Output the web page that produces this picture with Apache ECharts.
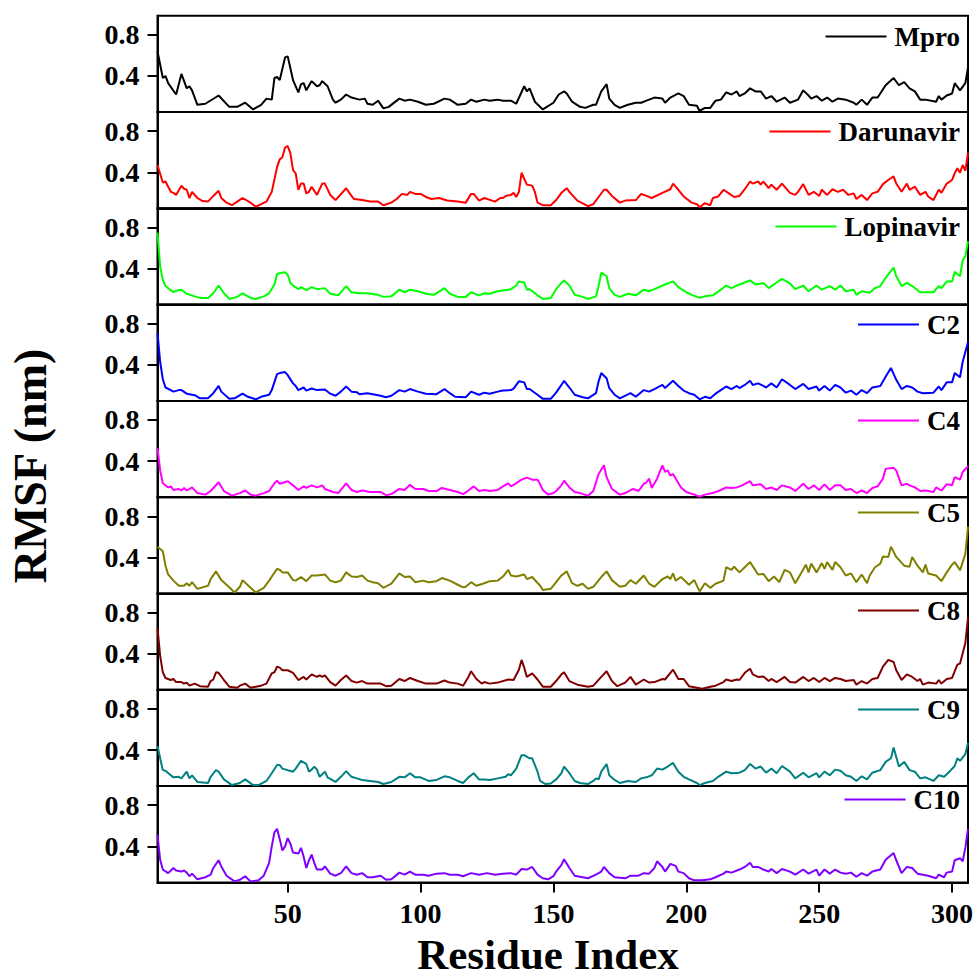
<!DOCTYPE html>
<html>
<head>
<meta charset="utf-8">
<script src="https://cdn.jsdelivr.net/npm/echarts@6/dist/echarts.min.js"></script>
<style>
html,body{margin:0;padding:0;background:#fff;}
#chart{width:977px;height:979px;}
</style>
</head>
<body>
<div id="chart"></div>
<script>
// ---------- DATA (residue index, RMSF nm) ----------
const seriesNames = ['Mpro','Darunavir','Lopinavir','C2','C4','C5','C8','C9','C10'];
const xTicks = [50,100,150,200,250,300];
const yTicks = [0.4,0.8];

const mpro = [[1,0.64],[3,0.38],[4,0.40],[5,0.33],[8,0.22],[10,0.42],[12,0.28],[13,0.30],[14,0.26],[16,0.12],[19,0.13],[24,0.21],[28,0.10],[31,0.10],[34,0.14],[37,0.075],[40,0.12],[42,0.18],[44,0.17],[45,0.38],[46,0.39],[47,0.36],[49,0.58],[50,0.59],[52,0.36],[54,0.24],[55,0.32],[56,0.33],[57,0.26],[59,0.35],[61,0.30],[62,0.31],[63,0.35],[65,0.30],[67,0.17],[68,0.14],[70,0.17],[72,0.22],[74,0.19],[77,0.17],[79,0.18],[80,0.13],[82,0.12],[84,0.16],[86,0.085],[88,0.10],[92,0.18],[94,0.16],[96,0.17],[99,0.15],[102,0.12],[105,0.13],[109,0.18],[111,0.17],[114,0.12],[117,0.13],[119,0.17],[121,0.15],[124,0.17],[126,0.16],[129,0.17],[131,0.16],[134,0.16],[136,0.13],[139,0.30],[140,0.25],[141,0.28],[143,0.15],[146,0.075],[150,0.14],[152,0.22],[154,0.25],[155,0.23],[157,0.15],[160,0.10],[162,0.09],[165,0.12],[166,0.12],[168,0.25],[170,0.32],[171,0.18],[173,0.12],[175,0.09],[178,0.12],[181,0.14],[183,0.14],[185,0.16],[188,0.19],[191,0.18],[192,0.14],[194,0.19],[197,0.23],[199,0.205],[201,0.12],[204,0.11],[205,0.06],[207,0.09],[209,0.09],[211,0.16],[213,0.17],[215,0.24],[217,0.22],[219,0.25],[220,0.205],[222,0.23],[224,0.28],[226,0.25],[228,0.25],[230,0.18],[232,0.205],[234,0.15],[237,0.19],[239,0.14],[242,0.17],[244,0.26],[246,0.21],[247,0.18],[249,0.205],[251,0.16],[253,0.19],[255,0.15],[257,0.18],[260,0.17],[263,0.14],[264,0.12],[266,0.17],[268,0.12],[270,0.19],[272,0.19],[275,0.31],[278,0.38],[280,0.31],[282,0.34],[284,0.28],[286,0.25],[288,0.17],[290,0.17],[294,0.15],[295,0.205],[296,0.17],[298,0.21],[300,0.23],[301,0.33],[303,0.26],[305,0.33],[306,0.48]];

const darunavir = [[1,0.47],[3,0.30],[4,0.31],[6,0.21],[7,0.20],[8,0.18],[10,0.27],[11,0.24],[12,0.23],[13,0.15],[14,0.21],[16,0.15],[18,0.12],[20,0.115],[22,0.17],[24,0.22],[25,0.15],[27,0.105],[29,0.08],[31,0.115],[33,0.15],[36,0.105],[38,0.065],[40,0.09],[42,0.115],[44,0.21],[46,0.45],[47,0.525],[48,0.545],[49,0.64],[50,0.655],[51,0.585],[52,0.42],[53,0.39],[54,0.23],[55,0.29],[56,0.29],[57,0.195],[58,0.21],[59,0.26],[61,0.18],[63,0.29],[64,0.29],[66,0.18],[68,0.13],[72,0.245],[74,0.17],[75,0.14],[78,0.13],[81,0.115],[84,0.115],[86,0.08],[89,0.105],[91,0.14],[93,0.19],[95,0.18],[96,0.21],[98,0.19],[100,0.19],[102,0.16],[104,0.14],[107,0.15],[110,0.125],[114,0.115],[117,0.105],[119,0.19],[120,0.19],[122,0.125],[124,0.15],[128,0.115],[130,0.15],[131,0.15],[132,0.17],[134,0.18],[135,0.2],[136,0.16],[137,0.21],[138,0.395],[140,0.28],[142,0.27],[143,0.21],[144,0.105],[146,0.08],[149,0.08],[151,0.13],[153,0.2],[155,0.245],[156,0.21],[159,0.125],[163,0.07],[165,0.09],[167,0.16],[169,0.23],[170,0.23],[172,0.17],[175,0.105],[177,0.125],[181,0.13],[183,0.19],[185,0.17],[187,0.15],[191,0.2],[194,0.235],[195,0.29],[197,0.23],[199,0.165],[202,0.105],[204,0.09],[205,0.06],[207,0.1],[209,0.08],[210,0.15],[212,0.165],[214,0.23],[216,0.195],[218,0.16],[220,0.17],[222,0.235],[224,0.31],[225,0.29],[227,0.31],[228,0.28],[229,0.31],[231,0.245],[232,0.28],[234,0.23],[236,0.29],[239,0.2],[241,0.18],[242,0.21],[244,0.285],[246,0.18],[248,0.21],[250,0.17],[251,0.23],[253,0.18],[255,0.235],[257,0.21],[259,0.23],[261,0.18],[263,0.195],[264,0.14],[266,0.18],[268,0.13],[270,0.195],[272,0.21],[274,0.285],[276,0.325],[278,0.36],[279,0.29],[281,0.21],[283,0.29],[284,0.23],[286,0.26],[288,0.18],[290,0.21],[291,0.165],[293,0.13],[295,0.23],[296,0.2],[298,0.29],[300,0.325],[301,0.39],[302,0.44],[303,0.395],[304,0.47],[305,0.415],[306,0.59]];

const lopinavir = [[1,0.75],[2,0.42],[3,0.29],[4,0.23],[6,0.19],[7,0.17],[8,0.185],[10,0.195],[12,0.155],[15,0.13],[17,0.115],[20,0.115],[22,0.16],[24,0.235],[26,0.16],[28,0.105],[31,0.125],[33,0.16],[36,0.115],[38,0.105],[41,0.13],[43,0.16],[45,0.245],[46,0.35],[48,0.36],[49,0.365],[50,0.34],[51,0.26],[52,0.235],[54,0.2],[55,0.22],[57,0.19],[59,0.22],[61,0.2],[64,0.21],[66,0.155],[69,0.14],[72,0.23],[74,0.17],[77,0.16],[80,0.16],[84,0.145],[86,0.125],[89,0.13],[92,0.195],[94,0.17],[96,0.195],[99,0.18],[102,0.155],[105,0.145],[109,0.21],[111,0.155],[114,0.125],[117,0.125],[119,0.17],[122,0.14],[124,0.16],[126,0.155],[129,0.18],[133,0.195],[134,0.2],[136,0.235],[137,0.275],[139,0.265],[140,0.195],[141,0.2],[144,0.14],[146,0.105],[149,0.115],[151,0.2],[153,0.26],[154,0.285],[156,0.235],[158,0.145],[161,0.125],[163,0.105],[166,0.13],[167,0.23],[168,0.36],[170,0.325],[171,0.21],[173,0.145],[175,0.125],[178,0.155],[181,0.14],[184,0.195],[186,0.18],[188,0.2],[192,0.245],[195,0.275],[197,0.22],[200,0.17],[202,0.145],[205,0.115],[207,0.13],[210,0.14],[213,0.195],[215,0.235],[217,0.21],[219,0.235],[221,0.255],[224,0.285],[226,0.245],[229,0.26],[231,0.21],[234,0.265],[236,0.3],[239,0.255],[241,0.2],[244,0.235],[246,0.18],[249,0.235],[251,0.195],[254,0.23],[256,0.195],[258,0.235],[260,0.18],[263,0.195],[264,0.145],[266,0.18],[269,0.165],[271,0.21],[273,0.23],[275,0.31],[278,0.41],[279,0.325],[281,0.23],[283,0.26],[285,0.23],[288,0.17],[290,0.17],[293,0.17],[295,0.23],[296,0.21],[298,0.275],[300,0.275],[301,0.37],[303,0.325],[304,0.48],[305,0.52],[306,0.665]];

const c2 = [[1,0.71],[2,0.43],[3,0.26],[4,0.18],[6,0.155],[7,0.14],[9,0.155],[10,0.155],[12,0.12],[15,0.105],[17,0.075],[20,0.075],[22,0.125],[24,0.195],[25,0.14],[28,0.07],[30,0.075],[33,0.12],[35,0.09],[38,0.065],[40,0.09],[43,0.11],[44,0.155],[46,0.31],[47,0.32],[49,0.33],[50,0.3],[52,0.22],[53,0.195],[54,0.155],[56,0.18],[57,0.15],[59,0.17],[61,0.155],[64,0.16],[66,0.12],[68,0.1],[70,0.14],[72,0.19],[74,0.14],[76,0.135],[77,0.115],[80,0.125],[82,0.115],[85,0.1],[87,0.085],[89,0.1],[92,0.155],[94,0.14],[96,0.165],[99,0.14],[102,0.12],[106,0.115],[109,0.165],[111,0.125],[113,0.09],[117,0.085],[119,0.14],[122,0.11],[124,0.13],[126,0.12],[129,0.14],[131,0.15],[134,0.155],[135,0.17],[137,0.24],[139,0.23],[140,0.165],[141,0.165],[144,0.11],[146,0.07],[149,0.07],[151,0.13],[153,0.205],[154,0.245],[156,0.18],[158,0.11],[161,0.085],[163,0.075],[166,0.125],[167,0.24],[168,0.32],[170,0.27],[171,0.175],[173,0.11],[175,0.075],[179,0.125],[181,0.09],[184,0.155],[186,0.14],[188,0.165],[191,0.205],[192,0.175],[195,0.245],[197,0.195],[199,0.15],[201,0.125],[203,0.11],[205,0.065],[207,0.09],[209,0.075],[211,0.12],[213,0.155],[215,0.19],[217,0.165],[219,0.195],[220,0.175],[222,0.205],[224,0.245],[225,0.205],[227,0.22],[229,0.195],[230,0.18],[232,0.22],[234,0.18],[236,0.26],[239,0.205],[241,0.165],[244,0.215],[246,0.165],[249,0.19],[250,0.15],[252,0.195],[254,0.15],[256,0.205],[258,0.18],[260,0.13],[262,0.15],[264,0.11],[266,0.155],[268,0.125],[270,0.18],[273,0.195],[275,0.285],[277,0.37],[279,0.255],[281,0.165],[283,0.195],[285,0.18],[287,0.14],[289,0.125],[293,0.13],[295,0.19],[296,0.155],[298,0.23],[300,0.23],[301,0.32],[303,0.28],[304,0.43],[306,0.62]];

const c4 = [[1,0.53],[2,0.31],[3,0.185],[5,0.145],[6,0.155],[7,0.12],[9,0.13],[10,0.115],[11,0.14],[12,0.115],[14,0.145],[16,0.09],[19,0.075],[21,0.11],[24,0.195],[26,0.11],[29,0.065],[32,0.09],[34,0.115],[36,0.075],[38,0.065],[41,0.09],[43,0.11],[45,0.185],[46,0.21],[47,0.18],[50,0.205],[52,0.165],[54,0.12],[56,0.155],[57,0.14],[59,0.165],[61,0.145],[63,0.165],[64,0.13],[67,0.1],[69,0.09],[72,0.185],[74,0.12],[76,0.1],[78,0.115],[81,0.1],[85,0.1],[87,0.07],[89,0.08],[92,0.13],[94,0.12],[96,0.17],[98,0.13],[101,0.13],[103,0.11],[106,0.11],[108,0.14],[111,0.12],[114,0.1],[116,0.08],[118,0.115],[120,0.155],[122,0.11],[124,0.12],[126,0.11],[129,0.12],[131,0.155],[133,0.185],[134,0.155],[136,0.185],[138,0.22],[140,0.24],[142,0.22],[144,0.22],[145,0.175],[146,0.12],[148,0.075],[150,0.09],[151,0.11],[153,0.165],[154,0.21],[156,0.145],[158,0.1],[160,0.09],[163,0.065],[165,0.11],[167,0.275],[169,0.36],[170,0.245],[172,0.13],[175,0.075],[177,0.09],[180,0.13],[182,0.11],[184,0.18],[185,0.195],[186,0.23],[187,0.14],[189,0.23],[191,0.36],[192,0.295],[193,0.31],[194,0.26],[195,0.275],[198,0.145],[200,0.1],[203,0.075],[205,0.055],[207,0.075],[210,0.09],[213,0.12],[215,0.145],[217,0.14],[219,0.145],[221,0.165],[224,0.205],[225,0.165],[228,0.175],[230,0.13],[232,0.145],[234,0.12],[236,0.165],[239,0.145],[241,0.11],[244,0.18],[246,0.13],[248,0.165],[250,0.12],[252,0.175],[254,0.12],[256,0.165],[258,0.165],[260,0.12],[262,0.13],[264,0.09],[266,0.115],[268,0.09],[270,0.14],[272,0.155],[274,0.23],[275,0.325],[278,0.335],[279,0.31],[281,0.165],[283,0.18],[284,0.165],[286,0.145],[288,0.11],[290,0.115],[293,0.1],[294,0.145],[296,0.115],[298,0.175],[300,0.165],[301,0.245],[303,0.22],[304,0.295],[306,0.35]];

const c5 = [[1,0.505],[3,0.46],[4,0.32],[5,0.235],[7,0.175],[9,0.125],[11,0.125],[12,0.15],[13,0.125],[14,0.16],[16,0.095],[20,0.125],[21,0.19],[23,0.265],[25,0.18],[28,0.11],[30,0.06],[32,0.115],[33,0.18],[36,0.105],[38,0.06],[41,0.105],[43,0.175],[46,0.29],[47,0.28],[48,0.255],[50,0.255],[52,0.18],[53,0.175],[55,0.21],[57,0.17],[59,0.225],[61,0.225],[64,0.235],[66,0.175],[68,0.16],[70,0.175],[72,0.255],[74,0.215],[76,0.21],[78,0.225],[80,0.175],[82,0.16],[84,0.15],[86,0.105],[89,0.145],[92,0.245],[94,0.21],[96,0.215],[98,0.16],[101,0.175],[103,0.16],[106,0.17],[108,0.2],[111,0.175],[114,0.135],[116,0.11],[117,0.115],[119,0.16],[121,0.125],[124,0.15],[126,0.17],[129,0.175],[131,0.215],[133,0.28],[134,0.225],[136,0.215],[139,0.235],[140,0.19],[142,0.21],[145,0.125],[146,0.085],[149,0.095],[151,0.16],[153,0.225],[155,0.265],[157,0.15],[159,0.125],[161,0.145],[163,0.095],[165,0.115],[168,0.21],[170,0.265],[172,0.18],[175,0.115],[177,0.125],[179,0.18],[181,0.145],[184,0.225],[186,0.145],[188,0.115],[191,0.19],[193,0.215],[194,0.19],[195,0.245],[196,0.175],[198,0.21],[201,0.135],[203,0.18],[205,0.07],[207,0.15],[209,0.105],[211,0.145],[214,0.175],[215,0.305],[217,0.28],[218,0.31],[220,0.255],[222,0.305],[224,0.355],[227,0.235],[229,0.24],[231,0.17],[233,0.215],[235,0.16],[237,0.28],[239,0.255],[241,0.15],[243,0.24],[245,0.33],[246,0.255],[247,0.34],[249,0.255],[251,0.345],[252,0.29],[253,0.355],[255,0.28],[256,0.355],[258,0.305],[260,0.225],[262,0.245],[264,0.16],[266,0.235],[268,0.15],[269,0.225],[271,0.305],[273,0.34],[274,0.41],[276,0.405],[277,0.505],[279,0.405],[282,0.32],[284,0.31],[285,0.405],[287,0.32],[289,0.255],[290,0.33],[291,0.245],[294,0.225],[296,0.17],[298,0.255],[300,0.33],[301,0.355],[303,0.275],[305,0.435],[306,0.7]];

const c8 = [[1,0.65],[2,0.38],[3,0.22],[4,0.165],[6,0.145],[7,0.155],[8,0.125],[10,0.125],[11,0.11],[12,0.12],[13,0.09],[15,0.11],[17,0.085],[20,0.08],[21,0.135],[22,0.15],[23,0.22],[24,0.215],[26,0.145],[28,0.08],[31,0.07],[32,0.09],[34,0.11],[36,0.07],[38,0.08],[40,0.09],[42,0.11],[44,0.21],[45,0.22],[46,0.275],[47,0.265],[48,0.24],[50,0.24],[52,0.215],[54,0.145],[56,0.175],[57,0.15],[59,0.2],[61,0.175],[62,0.19],[63,0.175],[64,0.19],[66,0.125],[68,0.09],[70,0.145],[72,0.19],[74,0.135],[76,0.12],[78,0.135],[80,0.11],[82,0.11],[85,0.11],[87,0.085],[89,0.09],[92,0.155],[94,0.135],[96,0.165],[99,0.135],[102,0.11],[106,0.11],[109,0.14],[111,0.12],[114,0.11],[116,0.09],[118,0.175],[119,0.23],[121,0.155],[123,0.11],[124,0.125],[126,0.11],[129,0.12],[133,0.15],[135,0.145],[137,0.245],[138,0.34],[139,0.265],[140,0.175],[142,0.21],[144,0.15],[146,0.08],[149,0.08],[151,0.135],[153,0.2],[154,0.22],[156,0.135],[159,0.1],[163,0.08],[165,0.09],[168,0.175],[170,0.23],[172,0.135],[174,0.085],[177,0.12],[179,0.175],[181,0.1],[184,0.15],[186,0.12],[188,0.125],[191,0.155],[192,0.15],[195,0.245],[197,0.155],[199,0.155],[201,0.085],[204,0.07],[206,0.06],[209,0.08],[211,0.09],[214,0.125],[215,0.15],[217,0.135],[219,0.15],[220,0.145],[222,0.215],[224,0.255],[225,0.2],[227,0.175],[229,0.18],[231,0.135],[232,0.155],[234,0.125],[237,0.175],[239,0.125],[241,0.12],[244,0.175],[246,0.135],[248,0.165],[250,0.125],[252,0.165],[254,0.135],[256,0.165],[258,0.155],[260,0.135],[263,0.145],[264,0.1],[266,0.135],[268,0.11],[270,0.155],[272,0.165],[274,0.275],[276,0.34],[278,0.32],[279,0.24],[281,0.145],[283,0.2],[285,0.175],[287,0.135],[288,0.155],[289,0.1],[291,0.12],[294,0.11],[295,0.145],[296,0.11],[298,0.155],[300,0.165],[302,0.295],[303,0.305],[305,0.505],[306,0.75]];

const c9 = [[1,0.44],[2,0.32],[3,0.205],[4,0.2],[6,0.155],[7,0.135],[9,0.14],[10,0.125],[12,0.19],[13,0.125],[14,0.155],[16,0.09],[20,0.08],[21,0.14],[23,0.205],[24,0.19],[26,0.115],[29,0.06],[32,0.08],[34,0.115],[37,0.06],[39,0.06],[42,0.1],[44,0.175],[46,0.255],[47,0.255],[48,0.22],[52,0.19],[53,0.22],[55,0.295],[57,0.265],[58,0.19],[59,0.21],[60,0.24],[61,0.21],[62,0.14],[64,0.19],[65,0.135],[68,0.09],[70,0.14],[72,0.195],[74,0.14],[76,0.125],[78,0.11],[81,0.1],[84,0.09],[86,0.07],[89,0.09],[92,0.14],[94,0.135],[96,0.175],[98,0.135],[100,0.135],[103,0.1],[106,0.11],[109,0.145],[111,0.135],[114,0.1],[116,0.08],[118,0.135],[120,0.175],[122,0.115],[124,0.115],[126,0.11],[129,0.125],[132,0.14],[133,0.165],[134,0.155],[136,0.22],[138,0.35],[139,0.35],[141,0.32],[142,0.32],[144,0.19],[145,0.1],[147,0.07],[149,0.075],[151,0.115],[153,0.175],[154,0.24],[156,0.175],[158,0.1],[160,0.08],[163,0.07],[165,0.1],[166,0.125],[167,0.115],[168,0.19],[170,0.265],[171,0.155],[173,0.11],[175,0.08],[178,0.1],[181,0.09],[183,0.125],[185,0.135],[187,0.155],[189,0.22],[191,0.21],[193,0.24],[195,0.275],[197,0.19],[199,0.14],[201,0.115],[204,0.08],[205,0.06],[207,0.08],[210,0.1],[212,0.14],[215,0.19],[217,0.175],[220,0.18],[222,0.205],[224,0.265],[226,0.22],[228,0.24],[230,0.18],[232,0.22],[234,0.175],[236,0.245],[239,0.19],[241,0.125],[244,0.18],[246,0.135],[249,0.175],[250,0.135],[252,0.19],[254,0.155],[256,0.21],[258,0.2],[260,0.155],[262,0.14],[264,0.1],[266,0.145],[268,0.115],[270,0.18],[273,0.205],[275,0.285],[277,0.32],[278,0.425],[280,0.24],[282,0.285],[284,0.205],[286,0.19],[288,0.125],[290,0.135],[293,0.1],[295,0.155],[297,0.14],[299,0.19],[301,0.245],[302,0.32],[303,0.295],[305,0.36],[306,0.47]];

const c10 = [[1,0.515],[2,0.27],[3,0.175],[5,0.14],[7,0.19],[8,0.165],[10,0.155],[11,0.165],[12,0.145],[13,0.11],[14,0.135],[16,0.08],[19,0.1],[21,0.125],[22,0.19],[24,0.265],[25,0.205],[27,0.115],[30,0.06],[32,0.075],[34,0.11],[36,0.06],[39,0.07],[41,0.115],[43,0.24],[44,0.4],[45,0.535],[46,0.57],[47,0.47],[48,0.36],[49,0.4],[50,0.48],[51,0.425],[52,0.34],[54,0.33],[55,0.385],[56,0.3],[57,0.19],[58,0.265],[59,0.32],[60,0.24],[61,0.175],[63,0.175],[64,0.205],[66,0.135],[68,0.115],[70,0.14],[72,0.205],[74,0.14],[76,0.125],[78,0.14],[80,0.1],[82,0.1],[85,0.115],[87,0.075],[89,0.08],[92,0.145],[94,0.125],[96,0.155],[98,0.125],[101,0.125],[103,0.115],[106,0.135],[109,0.14],[111,0.125],[114,0.125],[116,0.11],[119,0.14],[122,0.125],[125,0.14],[128,0.125],[131,0.135],[134,0.14],[136,0.125],[138,0.18],[140,0.175],[142,0.2],[144,0.125],[146,0.09],[148,0.08],[150,0.11],[151,0.155],[153,0.22],[154,0.275],[156,0.19],[158,0.115],[161,0.1],[163,0.09],[166,0.125],[168,0.155],[169,0.2],[171,0.14],[173,0.1],[177,0.09],[179,0.115],[182,0.115],[184,0.14],[186,0.135],[188,0.19],[189,0.255],[191,0.2],[192,0.155],[194,0.23],[196,0.21],[197,0.155],[199,0.14],[201,0.09],[203,0.07],[206,0.07],[209,0.08],[211,0.1],[214,0.135],[215,0.155],[217,0.145],[220,0.175],[222,0.2],[224,0.24],[225,0.2],[227,0.2],[229,0.175],[231,0.155],[232,0.18],[234,0.14],[236,0.18],[239,0.155],[241,0.125],[244,0.175],[246,0.135],[249,0.175],[250,0.115],[252,0.175],[254,0.135],[256,0.175],[258,0.145],[260,0.135],[262,0.145],[264,0.105],[266,0.14],[268,0.115],[270,0.155],[273,0.175],[275,0.27],[278,0.335],[279,0.265],[281,0.14],[283,0.2],[285,0.19],[287,0.135],[289,0.125],[291,0.115],[294,0.09],[295,0.125],[297,0.1],[298,0.145],[300,0.155],[301,0.265],[303,0.285],[304,0.255],[305,0.385],[306,0.57]];

const seriesData = [mpro, darunavir, lopinavir, c2, c4, c5, c8, c9, c10];

// ---------- STYLE / LAYOUT ----------
const colors = ['#000000','#ff0000','#00ff00','#0000ff','#ff00ff','#808000','#800000','#008080','#8000ff'];
const legendCenters = [37, 132, 227, 325, 421, 513, 611, 710, 800];
const FONT = 'Liberation Serif, Times New Roman, serif';
const TOP0 = 15.7, PH = 96.3, LEFT = 157.5, RIGHT = 9;

const grids = [], xAxes = [], yAxes = [], series = [], legends = [];
for (let i = 0; i < 9; i++) {
  const last = i === 8;
  grids.push({
    left: LEFT, right: RIGHT, top: TOP0 + i * PH, height: PH,
    show: true, borderColor: '#000', borderWidth: 2, backgroundColor: 'transparent',
    containLabel: false
  });
  xAxes.push({
    type: 'value', gridIndex: i, min: 1, max: 306,
    axisLine: { show: true, onZero: false, lineStyle: { color: '#000', width: 2 } },
    axisTick: { show: last, customValues: xTicks, length: 10, inside: false, lineStyle: { color: '#000', width: 2 } },
    axisLabel: { show: last, customValues: xTicks, margin: 17, color: '#000',
      fontFamily: FONT, fontWeight: 'bold', fontSize: 28 },
    splitLine: { show: false }
  });
  yAxes.push({
    type: 'value', gridIndex: i, min: 0.05, max: 0.985,
    axisLine: { show: true, onZero: false, lineStyle: { color: '#000', width: 2 } },
    axisTick: { show: true, customValues: yTicks, length: 10, inside: false, lineStyle: { color: '#000', width: 2 } },
    axisLabel: { show: true, customValues: yTicks, margin: 18, color: '#000',
      fontFamily: FONT, fontWeight: 'bold', fontSize: 28,
      formatter: v => Number(v).toFixed(1) },
    splitLine: { show: false }
  });
  series.push({
    name: seriesNames[i], type: 'line', xAxisIndex: i, yAxisIndex: i,
    data: seriesData[i], showSymbol: false, symbol: 'none', clip: true,
    color: colors[i], lineStyle: { color: colors[i], width: 2 }
  });
  legends.push({
    data: [seriesNames[i]], right: 17, top: legendCenters[i] - 14, padding: 0,
    icon: 'rect', itemWidth: 61, itemHeight: 2, selectedMode: false,
    textStyle: { color: '#000', fontFamily: FONT, fontWeight: 'bold', fontSize: 27, padding: [0, 0, 0, 3] }
  });
}

const chart = echarts.init(document.getElementById('chart'), null, { renderer: 'svg', width: 977, height: 979 });
chart.setOption({
  animation: false,
  backgroundColor: '#fff',
  grid: grids, xAxis: xAxes, yAxis: yAxes, series: series, legend: legends,
  graphic: [
    { type: 'text', x: 30, y: 466, rotation: Math.PI / 2,
      style: { text: 'RMSF (nm)', x: 0, y: 0, align: 'center', verticalAlign: 'middle',
        fontFamily: FONT, fontWeight: 'bold', fontSize: 46, fill: '#000' } },
    { type: 'text', x: 548, y: 954,
      style: { text: 'Residue Index', x: 0, y: 0, align: 'center', verticalAlign: 'middle',
        fontFamily: FONT, fontWeight: 'bold', fontSize: 43, fill: '#000' } }
  ]
});
</script>
</body>
</html>
